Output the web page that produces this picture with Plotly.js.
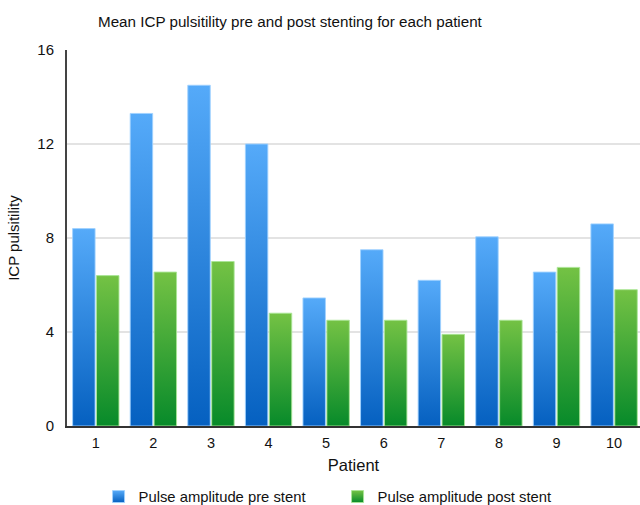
<!DOCTYPE html>
<html>
<head>
<meta charset="utf-8">
<script src="https://cdn.plot.ly/plotly-3.0.1.min.js"></script>
<style>
  html, body { margin: 0; padding: 0; background: #fff; }
  #chart { width: 640px; height: 505px; }
</style>
</head>
<body>
<div id="chart"></div>
<script>
const patients = [1, 2, 3, 4, 5, 6, 7, 8, 9, 10];
const tickLabels = ["1", "2", "3", "4", "5", "6", "7", "8", "9", "10"];
const preStent = [8.4, 13.3, 14.5, 12.0, 5.45, 7.5, 6.2, 8.05, 6.55, 8.6];
const postStent = [6.4, 6.55, 7.0, 4.8, 4.5, 4.5, 3.9, 4.5, 6.75, 5.8];
const seriesNames = ["Pulse amplitude pre stent", "Pulse amplitude post stent"];

const FONT = "Liberation Sans, Arial, Helvetica, sans-serif";

const traces = [
  {
    type: "bar", x: patients, y: preStent, name: seriesNames[0],
    marker: { color: "#2f86e0", line: { color: "rgba(160,210,255,0.9)", width: 1 } },
    hoverinfo: "y"
  },
  {
    type: "bar", x: patients, y: postStent, name: seriesNames[1],
    marker: { color: "#3da53a", line: { color: "rgba(170,230,150,0.9)", width: 1 } },
    hoverinfo: "y"
  }
];

const layout = {
  width: 640, height: 505,
  margin: { l: 67, r: 0, t: 50, b: 79, autoexpand: false },
  paper_bgcolor: "#fff", plot_bgcolor: "#fff",
  font: { family: FONT, size: 14, color: "#111" },
  title: {
    text: "Mean ICP pulsitility pre and post stenting for each patient",
    font: { family: FONT, size: 15.2, color: "#111" },
    x: 0.453, xanchor: "center", xref: "container",
    y: 0.957, yanchor: "middle", yref: "container"
  },
  barmode: "group",
  bargap: 0.17,
  bargroupgap: 0.06,
  xaxis: {
    range: [0.5, 10.45],
    tickvals: patients, ticktext: tickLabels,
    showgrid: false, zeroline: false,
    showline: true, linecolor: "#333", linewidth: 2,
    ticks: "", ticklabelstandoff: 3,
    tickfont: { family: FONT, size: 14.5, color: "#111" },
    title: { text: "Patient", font: { family: FONT, size: 16.5, color: "#111" }, standoff: 9 },
    automargin: false,
    fixedrange: true
  },
  yaxis: {
    range: [0, 16],
    tickvals: [0, 4, 8, 12, 16],
    showgrid: true, gridcolor: "#e3e3e3", gridwidth: 1.5,
    zeroline: false,
    showline: true, linecolor: "#444", linewidth: 2,
    ticks: "", ticklabelstandoff: 8,
    tickfont: { family: FONT, size: 15, color: "#111" },
    title: { text: "ICP pulsitility", font: { family: FONT, size: 15, color: "#111" }, standoff: 14 },
    automargin: false,
    fixedrange: true
  },
  showlegend: true,
  legend: {
    orientation: "h",
    xref: "container", yref: "container",
    x: 0.154, xanchor: "left",
    y: 0.016, yanchor: "middle",
    entrywidth: 194, entrywidthmode: "pixels",
    font: { family: FONT, size: 14.8, color: "#111" },
    itemclick: false, itemdoubleclick: false
  }
};

function applyGradients(gd) {
  const svg = gd.querySelector("svg.main-svg");
  if (!svg) return;
  const ns = "http://www.w3.org/2000/svg";
  let defs = svg.querySelector("defs#customGrads");
  if (!defs) {
    defs = document.createElementNS(ns, "defs");
    defs.setAttribute("id", "customGrads");
    const grads = [
      ["gradPre", "#55aaf9", "#0560c0"],
      ["gradPost", "#74c244", "#078a2a"]
    ];
    grads.forEach(([id, top, bot]) => {
      const g = document.createElementNS(ns, "linearGradient");
      g.setAttribute("id", id);
      g.setAttribute("x1", "0"); g.setAttribute("y1", "0");
      g.setAttribute("x2", "0"); g.setAttribute("y2", "1");
      const s1 = document.createElementNS(ns, "stop");
      s1.setAttribute("offset", "0"); s1.setAttribute("stop-color", top);
      const s2 = document.createElementNS(ns, "stop");
      s2.setAttribute("offset", "1"); s2.setAttribute("stop-color", bot);
      g.appendChild(s1); g.appendChild(s2);
      defs.appendChild(g);
    });
    svg.insertBefore(defs, svg.firstChild);
  }
  const ids = ["gradPre", "gradPost"];
  gd.querySelectorAll(".barlayer .trace.bars").forEach((tr, i) => {
    tr.querySelectorAll(".point path").forEach(p => {
      p.style.fill = "url(#" + ids[i % 2] + ")";
    });
  });
  gd.querySelectorAll(".legend .traces").forEach((tr, i) => {
    tr.querySelectorAll(".legendpoints path").forEach(p => {
      p.style.fill = "url(#" + ids[i % 2] + ")";
    });
  });
}

const gd = document.getElementById("chart");
Plotly.newPlot(gd, traces, layout, { displayModeBar: false, staticPlot: true }).then(() => {
  applyGradients(gd);
  gd.on("plotly_afterplot", () => applyGradients(gd));
});
</script>
</body>
</html>
